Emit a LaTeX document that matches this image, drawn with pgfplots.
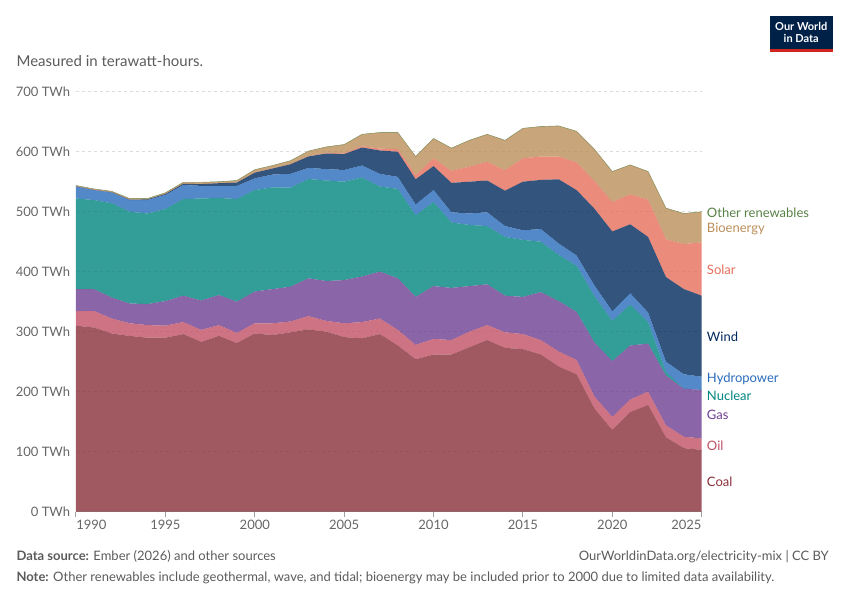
\documentclass[border=0pt]{standalone}
\usepackage{pgfplots}
\pgfplotsset{compat=1.18}
\usepackage{pgfplotstable}
\usepackage{fontspec}
\setmainfont{Lato}
\definecolor{coalc}{HTML}{883039}
\definecolor{oilc}{HTML}{C15065}
\definecolor{gasc}{HTML}{6D3E91}
\definecolor{nucc}{HTML}{00847E}
\definecolor{hydc}{HTML}{286BBB}
\definecolor{windc}{HTML}{00295B}
\definecolor{solc}{HTML}{E56E5A}
\definecolor{bioc}{HTML}{BC8E5A}
\definecolor{othc}{HTML}{578145}
\definecolor{txtc}{HTML}{5B5B5B}
\definecolor{tickc}{HTML}{666666}
\definecolor{gridc}{HTML}{DDDDDD}
\definecolor{axisc}{HTML}{A0A0A0}
\definecolor{owidnavy}{HTML}{002147}
\definecolor{owidred}{HTML}{CE261E}

\pgfplotstableread{
year coal oil gas nuclear hydro wind solar bio other
1990 310 24.5 36.5 151 20 0.1 0 1.3 0.2
1991 307 27.5 36.5 148.5 16.5 0.2 0 1.6 0.2
1992 297 25 35 157 18 0.3 0 1.5 0.2
1993 293 21 33 153 19.5 0.5 0 1.8 0.2
1994 290 21 35 151 22.5 1.0 0 1.3 0.2
1995 290 20 41 153.5 23.5 1.5 0 1.8 0.2
1996 296 20 44 161 23.5 2.0 0 2.3 0.2
1997 283 20 49 170 21 3.0 0 2.8 0.2
1998 293 18 50 162 20 4.5 0 2.3 0.2
1999 281 17 52 171 22 5.5 0 3.3 0.2
2000 297 17 53 169 19.6 9.4 0.1 4.7 0.2
2001 294.5 19.5 57 169.6 21.4 10 0.2 4.6 0.2
2002 299 18 58 165 23 16 0.2 5.6 0.2
2003 304 22 63 165.5 18.5 19 0.3 8.5 0.2
2004 300 18 66.5 167.5 19 26 0.6 10.2 0.2
2005 291 23 72 164 19.5 26.5 1.3 14.5 0.2
2006 289 27 76 165 20 30 2.2 19.6 0.2
2007 296 26 78 142 21 39 3.1 26.7 0.2
2008 277 26 86 149 20 42 4.4 27.4 0.2
2009 254 24 80 136 18 42 6.6 31.2 0.2
2010 262 26 88 140 20 40 13 32.8 0.2
2011 262 24 87 109 17 49 20 37.8 0.2
2012 274 26 76 102 19 53 25 43.8 0.2
2013 286 25 68 97 23 53 31 45.8 0.2
2014 273 26 61 98 18 59 34 49.8 0.2
2015 271 25 62 95 16 81 39 49.8 0.2
2016 262 24 80 84 21 82 39 49.8 0.2
2017 242 25 84 77 19 107 38 50.8 0.2
2018 229 24 80 77 17 109 46 51.8 0.2
2019 172 20 90 77 18 128 46 52.8 0.2
2020 136 22 93 67 16 133 49 50.8 0.2
2021 166 21 90 68 19 115 50 48.8 0.2
2022 178 22 80 36 16 126 62 46.8 0.2
2023 124 20 83 6 17 141 63 51.8 0.2
2024 106 19 80 0 24 142 75 50.8 0.2
2025 103 19 81 0 22 135 89 50.8 0.2
}\mix

\newcommand{\tickfont}{\fontsize{9.75pt}{11pt}\selectfont}
\newcommand{\labfont}{\fontsize{9.75pt}{11pt}\selectfont}
\newcommand{\footfont}{\fontsize{9.75pt}{11pt}\selectfont}

\begin{document}
\begin{tikzpicture}
\path[use as bounding box] (0,0) rectangle (637.5pt,-450pt);
\begin{axis}[
  at={(57pt,-383.775pt)}, anchor=south west,
  scale only axis, width=469.275pt, height=315pt,
  xmin=1990, xmax=2025, ymin=0, ymax=700,
  stack plots=y,
  axis x line*=bottom, axis y line*=left,
  y axis line style={draw=none},
  x axis line style={draw=axisc, line width=0.75pt},
  ytick={100,200,...,700}, yticklabels={},
  ytick style={draw=none},
  ymajorgrids,
  grid style={draw=gridc, dash pattern=on 2.25pt off 2.25pt, line width=0.75pt},
  xtick={1990,1995,...,2025}, xticklabels={},
  tick align=outside, major tick length=3.75pt,
  xtick style={draw=axisc, line width=0.75pt},
]
\addplot[fill=coalc, fill opacity=0.8, draw=none] table[x=year,y=coal]{\mix} \closedcycle;
\addplot[fill=oilc, fill opacity=0.8, draw=none] table[x=year,y=oil]{\mix} \closedcycle;
\addplot[fill=gasc, fill opacity=0.8, draw=none] table[x=year,y=gas]{\mix} \closedcycle;
\addplot[fill=nucc, fill opacity=0.8, draw=none] table[x=year,y=nuclear]{\mix} \closedcycle;
\addplot[fill=hydc, fill opacity=0.8, draw=none] table[x=year,y=hydro]{\mix} \closedcycle;
\addplot[fill=windc, fill opacity=0.8, draw=none] table[x=year,y=wind]{\mix} \closedcycle;
\addplot[fill=solc, fill opacity=0.8, draw=none] table[x=year,y=solar]{\mix} \closedcycle;
\addplot[fill=bioc, fill opacity=0.8, draw=none] table[x=year,y=bio]{\mix} \closedcycle;
\addplot[fill=othc, fill opacity=0.8, draw=othc, draw opacity=0.7, line width=0.4pt] table[x=year,y=other]{\mix} \closedcycle;
\end{axis}

\begin{scope}[x=0.75pt, y=-0.75pt]
  % subtitle
  \node[anchor=base west, inner sep=0pt, text=txtc, font=\fontsize{11.25pt}{13pt}\selectfont] at (16.3,66.5) {Measured in terawatt-hours.};
  % logo
  \fill[owidnavy] (769.5,16) rectangle (833,49.3);
  \fill[owidred] (769.5,49.3) rectangle (833,51.7);
  \node[anchor=base, inner sep=0pt, text=white, font=\fontsize{8.25pt}{9pt}\selectfont\bfseries] at (801.25,30.7) {Our World};
  \node[anchor=base, inner sep=0pt, text=white, font=\fontsize{8.25pt}{9pt}\selectfont\bfseries] at (801.25,42.3) {in Data};
  % y tick labels
  \foreach \v/\yy in {0/511.7,100/451.7,200/391.7,300/331.7,400/271.7,500/211.7,600/151.7,700/91.7} {
    \node[anchor=base east, inner sep=0pt, text=tickc, font=\tickfont] at (70.4,\yy+4.7) {\v\ TWh};
  }
  % x tick labels
  \node[anchor=base west, inner sep=0pt, text=tickc, font=\tickfont] at (76,529.3) {1990};
  \foreach \yr/\xx in {1995/165.4,2000/254.8,2005/344.1,2010/433.5,2015/522.9,2020/612.3} {
    \node[anchor=base, inner sep=0pt, text=tickc, font=\tickfont] at (\xx,529.3) {\yr};
  }
  \node[anchor=base east, inner sep=0pt, text=tickc, font=\tickfont] at (701.7,529.3) {2025};
  % series labels
  \node[anchor=base west, inner sep=0pt, text=othc, font=\labfont] at (706.7,217) {Other renewables};
  \node[anchor=base west, inner sep=0pt, text=bioc, font=\labfont] at (706.7,232.4) {Bioenergy};
  \node[anchor=base west, inner sep=0pt, text=solc, font=\labfont] at (706.7,274) {Solar};
  \node[anchor=base west, inner sep=0pt, text=windc, font=\labfont] at (706.7,341.4) {Wind};
  \node[anchor=base west, inner sep=0pt, text=hydc, font=\labfont] at (706.7,382.4) {Hydropower};
  \node[anchor=base west, inner sep=0pt, text=nucc, font=\labfont] at (706.7,400.7) {Nuclear};
  \node[anchor=base west, inner sep=0pt, text=gasc, font=\labfont] at (706.7,419) {Gas};
  \node[anchor=base west, inner sep=0pt, text=oilc, font=\labfont] at (706.7,450.4) {Oil};
  \node[anchor=base west, inner sep=0pt, text=coalc, font=\labfont] at (706.7,486.4) {Coal};
  % footer
  \node[anchor=base west, inner sep=0pt, text=txtc, font=\footfont] at (16.3,560.7) {\textbf{Data source:} Ember (2026) and other sources};
  \node[anchor=base east, inner sep=0pt, text=txtc, font=\footfont] at (829,560.7) {OurWorldinData.org/electricity-mix | CC BY};
  \node[anchor=base west, inner sep=0pt, text=txtc, font=\footfont] at (16.3,581) {\textbf{Note:} Other renewables include geothermal, wave, and tidal; bioenergy may be included prior to 2000 due to limited data availability.};
\end{scope}
\end{tikzpicture}
\end{document}
